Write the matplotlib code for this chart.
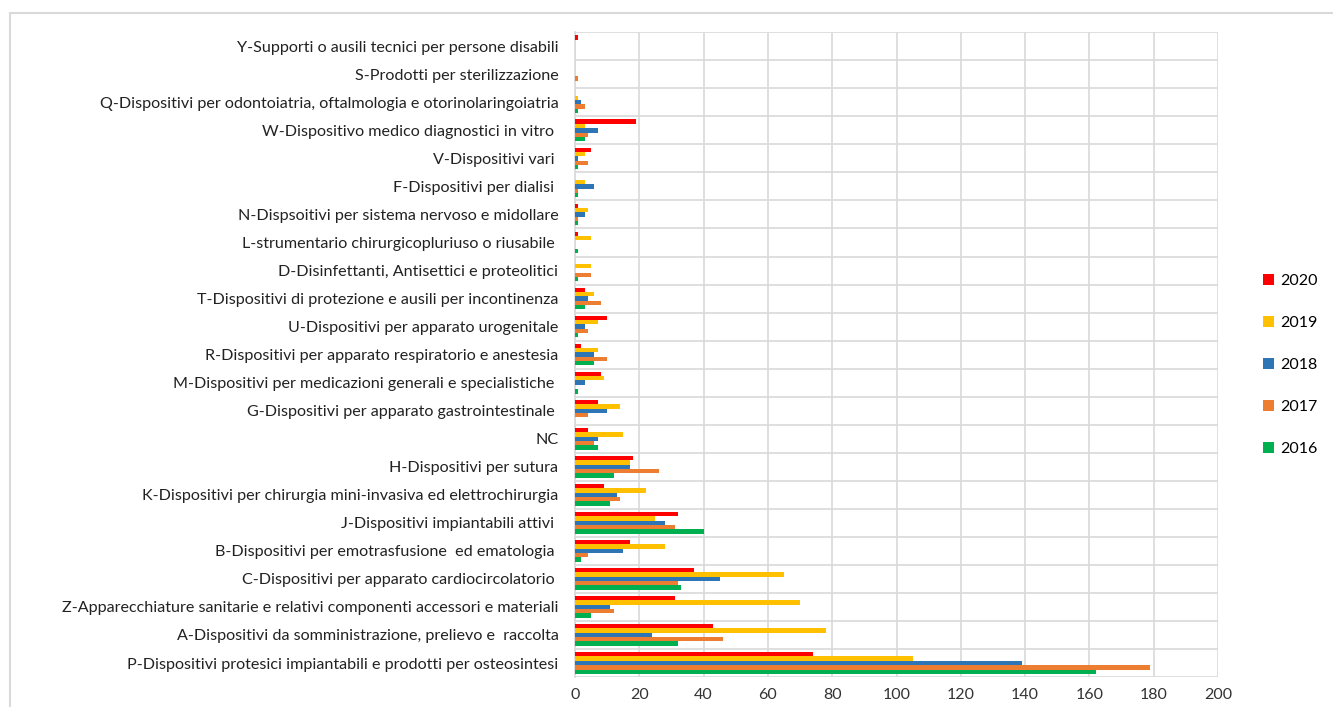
import matplotlib.pyplot as plt
import numpy as np
from matplotlib.patches import Rectangle


# categories from bottom to top, as in the picture
categories = [
    "P-Dispositivi protesici impiantabili e prodotti per osteosintesi",
    "A-Dispositivi da somministrazione, prelievo e  raccolta",
    "Z-Apparecchiature sanitarie e relativi componenti accessori e materiali",
    "C-Dispositivi per apparato cardiocircolatorio ",
    "B-Dispositivi per emotrasfusione  ed ematologia ",
    "J-Dispositivi impiantabili attivi ",
    "K-Dispositivi per chirurgia mini-invasiva ed elettrochirurgia",
    "H-Dispositivi per sutura",
    "NC",
    "G-Dispositivi per apparato gastrointestinale ",
    "M-Dispositivi per medicazioni generali e specialistiche ",
    "R-Dispositivi per apparato respiratorio e anestesia",
    "U-Dispositivi per apparato urogenitale",
    "T-Dispositivi di protezione e ausili per incontinenza",
    "D-Disinfettanti, Antisettici e proteolitici",
    "L-strumentario chirurgicopluriuso o riusabile ",
    "N-Dispsoitivi per sistema nervoso e midollare",
    "F-Dispositivi per dialisi ",
    "V-Dispositivi vari ",
    "W-Dispositivo medico diagnostici in vitro ",
    "Q-Dispositivi per odontoiatria, oftalmologia e otorinolaringoiatria",
    "S-Prodotti per sterilizzazione",
    "Y-Supporti o ausili tecnici per persone disabili",
]

years = ["2016", "2017", "2018", "2019", "2020"]

values_2016 = [162, 32, 5, 33, 2, 40, 11, 12, 7, 0, 1, 6, 1, 3, 1, 1, 1, 1, 1, 3, 1, 0, 0]
values_2017 = [179, 46, 12, 32, 4, 31, 14, 26, 6, 4, 0, 10, 4, 8, 5, 0, 1, 1, 4, 4, 3, 1, 0]
values_2018 = [139, 24, 11, 45, 15, 28, 13, 17, 7, 10, 3, 6, 3, 4, 0, 0, 3, 6, 1, 7, 2, 0, 0]
values_2019 = [105, 78, 70, 65, 28, 25, 22, 17, 15, 14, 9, 7, 7, 6, 5, 5, 4, 3, 3, 3, 1, 0, 0]
values_2020 = [74, 43, 31, 37, 17, 32, 9, 18, 4, 7, 8, 2, 10, 3, 0, 1, 1, 0, 5, 19, 0, 0, 1]

series = [values_2016, values_2017, values_2018, values_2019, values_2020]

colors = ["#00B050", "#ED7D31", "#2E75B6", "#FFC000", "#FF0000"]


plt.rcParams["font.family"] = ["Lato", "DejaVu Sans"]

fig = plt.figure(
    figsize=(13.33, 7.07),
    dpi=100
)

# light frame of the chart area: only its left and top edges are in view
fig.patches.append(
    Rectangle(
        (0.0075, -0.1),
        1.2,
        1.0816,
        transform=fig.transFigure,
        fill=False,
        edgecolor="#d9d9d9",
        linewidth=1.5
    )
)

ax = fig.add_axes([0.4314, 0.0424, 0.4823, 0.912])

y = np.arange(len(categories))
bar_height = 0.155

for i, (year, vals, color) in enumerate(zip(years, series, colors)):
    ax.barh(
        y + (i - 2) * bar_height,
        vals,
        height=bar_height,
        color=color,
        label=year,
        zorder=3
    )

ax.set_xlim(0, 200)
ax.set_ylim(-0.5, len(categories) - 0.5)

ax.set_xticks(range(0, 201, 20))
ax.set_yticks(y)
ax.set_yticklabels(categories)

# horizontal separators between categories
ax.set_yticks(np.arange(-0.5, len(categories), 1), minor=True)
ax.grid(axis="y", which="minor", color="#d9d9d9", linewidth=1.2, zorder=0)
ax.grid(axis="x", which="major", color="#d9d9d9", linewidth=1.2, zorder=0)

ax.tick_params(axis="both", which="both", length=0)
ax.tick_params(axis="y", labelsize=11.6, colors="#222222", pad=12)
ax.tick_params(axis="x", labelsize=11.5, colors="#333333", pad=8)

for side in ["top", "right", "bottom"]:
    ax.spines[side].set_visible(False)

ax.spines["left"].set_color("#d9d9d9")
ax.spines["left"].set_linewidth(1.2)

handles, labels = ax.get_legend_handles_labels()

ax.legend(
    handles[::-1],
    labels[::-1],
    loc="center left",
    bbox_to_anchor=(1.048, 0.484),
    frameon=False,
    fontsize=11.5,
    handlelength=0.7,
    handleheight=0.7,
    handletextpad=0.35,
    labelspacing=1.75
)

plt.savefig(
    "out.png",
    dpi=100
)

plt.close()
